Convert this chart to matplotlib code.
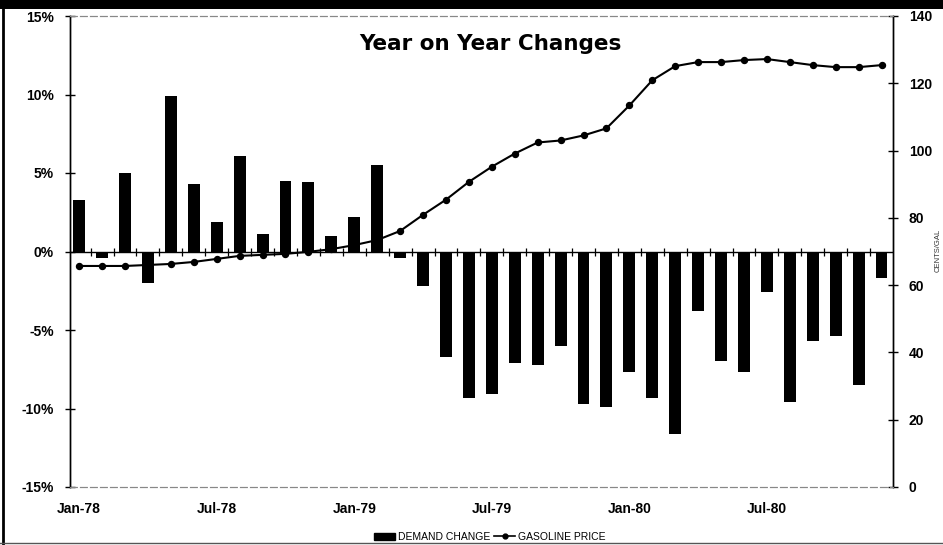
import numpy as np
import matplotlib
matplotlib.use("Agg")
import matplotlib.pyplot as plt
import matplotlib.patches as patches
from matplotlib.lines import Line2D

# monthly data, Jan-78 .. Dec-80
months = ['Jan-78', 'Feb-78', 'Mar-78', 'Apr-78', 'May-78', 'Jun-78',
          'Jul-78', 'Aug-78', 'Sep-78', 'Oct-78', 'Nov-78', 'Dec-78',
          'Jan-79', 'Feb-79', 'Mar-79', 'Apr-79', 'May-79', 'Jun-79',
          'Jul-79', 'Aug-79', 'Sep-79', 'Oct-79', 'Nov-79', 'Dec-79',
          'Jan-80', 'Feb-80', 'Mar-80', 'Apr-80', 'May-80', 'Jun-80',
          'Jul-80', 'Aug-80', 'Sep-80', 'Oct-80', 'Nov-80', 'Dec-80']
demand_change = [3.3, -0.4, 5.0, -2.0, 9.9, 4.3, 1.9, 6.1, 1.1, 4.5, 4.4, 1.0,
                 2.2, 5.5, -0.4, -2.2, -6.7, -9.3, -9.1, -7.1, -7.2, -6.0, -9.7, -9.9,
                 -7.7, -9.3, -11.6, -3.8, -7.0, -7.7, -2.6, -9.6, -5.7, -5.4, -8.5, -1.7]
gasoline_price = [65.7, 65.7, 65.7, 66.0, 66.3, 66.9, 67.8, 68.7, 69.0, 69.3, 69.9, 70.7,
                  71.9, 73.4, 76.1, 80.9, 85.4, 90.7, 95.2, 99.1, 102.4, 103.0, 104.5, 106.6,
                  113.4, 120.9, 125.1, 126.3, 126.3, 126.9, 127.2, 126.3, 125.4, 124.8, 124.8, 125.4]
label_months = ['Jan-78', 'Jul-78', 'Jan-79', 'Jul-79', 'Jan-80', 'Jul-80']
pct_ticks = [-15, -10, -5, 0, 5, 10, 15]
price_ticks = [0, 20, 40, 60, 80, 100, 120, 140]

W, H = 943, 545
fig = plt.figure(figsize=(W / 100, H / 100), dpi=100)
fig.patch.set_facecolor('white')

ax = fig.add_axes([70 / W, 1 - 487 / H, (893 - 70) / W, (487 - 16) / H])
ax2 = ax.twinx()

x = np.arange(len(months))
ax.bar(x, demand_change, width=0.52, color='black', zorder=2)
ax.axhline(0, color='black', lw=1.0, zorder=3)
# small month ticks across the zero line
ax.plot(x[:-1] + 0.5, np.zeros(len(x) - 1), ls='none', marker='|', ms=6,
        mew=0.9, color='black', zorder=3)

ax2.plot(x, gasoline_price, color='black', lw=1.5, marker='o', ms=4.3, zorder=4)

ax.set_xlim(-0.4, 35.5)
ax.set_ylim(-15, 15)
ax2.set_ylim(0, 140)

lab_font = dict(family='Liberation Sans', weight='bold', size=10)
ax.set_yticks(pct_ticks)
ax.set_yticklabels(['%d%%' % v for v in pct_ticks], **lab_font)
ax2.set_yticks(price_ticks)
ax2.set_yticklabels([str(v) for v in price_ticks], **lab_font)
ax.set_xticks([months.index(m) for m in label_months])
ax.set_xticklabels(label_months, **lab_font)
ax.tick_params(axis='x', length=0, pad=11)
ax.tick_params(axis='y', direction='inout', length=7, width=1, pad=8)
ax2.tick_params(axis='y', direction='inout', length=7, width=1, pad=8)

for a in (ax, ax2):
    for side in ('top', 'bottom'):
        a.spines[side].set_linestyle((0, (6, 3)))
        a.spines[side].set_color('#888888')
        a.spines[side].set_linewidth(0.8)
    a.spines['left'].set_linewidth(1.0)
    a.spines['right'].set_linewidth(1.0)
ax.set_facecolor('none')

fig.text(490 / W, 1 - 44 / H, 'Year on Year Changes', ha='center', va='center',
         family='DejaVu Sans', weight='bold', size=15.5)

fig.text(938 / W, 1 - 250 / H, 'CENTS/GAL', rotation=90, ha='center', va='center',
         family='Liberation Sans', size=5.5, color='#333333')

handles = [patches.Patch(facecolor='black', edgecolor='black', label='DEMAND CHANGE'),
           Line2D([], [], color='black', lw=1.2, marker='o', ms=3.5, label='GASOLINE PRICE')]
fig.legend(handles=handles, loc='center', bbox_to_anchor=(490 / W, 1 - 537 / H),
           ncol=2, frameon=False, prop=dict(family='Liberation Sans', size=7.5),
           handlelength=2.0, handletextpad=0.3, columnspacing=0.4)

# scanned page frame
fig.add_artist(patches.Rectangle((0, 1 - 9 / H), 1, 9 / H, transform=fig.transFigure,
                                 facecolor='black', edgecolor='none'))
fig.add_artist(Line2D([3 / W, 3 / W], [0, 1], transform=fig.transFigure,
                      color='black', lw=2))
fig.add_artist(Line2D([0, 1], [2 / H, 2 / H], transform=fig.transFigure,
                      color='#555555', lw=1))

fig.savefig('out.png', dpi=100)
